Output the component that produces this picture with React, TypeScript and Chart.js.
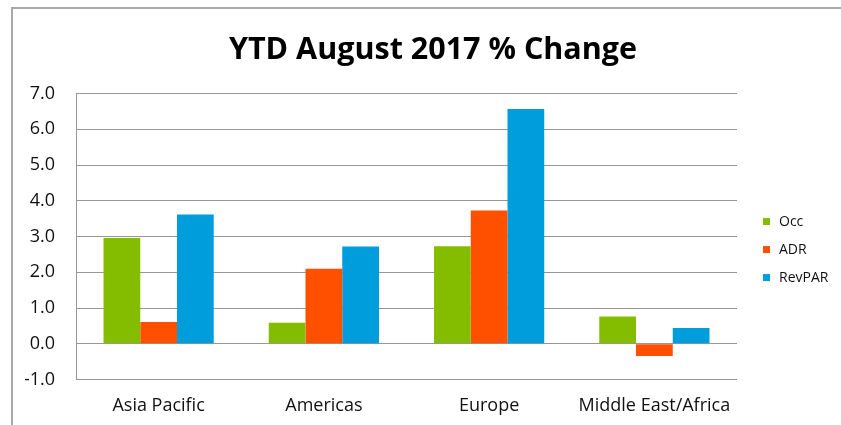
import React, { useEffect, useRef } from "react";
import { Chart, registerables } from "chart.js";

Chart.register(...registerables);

const categories = ["Asia Pacific", "Americas", "Europe", "Middle East/Africa"];
const occValues = [2.96, 0.59, 2.73, 0.76];
const adrValues = [0.61, 2.1, 3.73, -0.34];
const revparValues = [3.62, 2.72, 6.57, 0.44];
const seriesNames = ["Occ", "ADR", "RevPAR"];
const seriesColors = ["#84BD00", "#FF5000", "#009DDC"];
const chartTitle = "YTD August 2017 % Change";

const FONT = "'Open Sans', 'Noto Sans', sans-serif";

const sideLegend = {
  id: "sideLegend",
  afterDraw(chart: any) {
    const { ctx, chartArea } = chart;
    const mid = (chartArea.top + chartArea.bottom) / 2;
    ctx.save();
    ctx.font = `14px ${FONT}`;
    ctx.textBaseline = "middle";
    ctx.textAlign = "left";
    chart.data.datasets.forEach((ds: any, i: number) => {
      const y = mid + 13 + (i - 1) * 28;
      const x = chartArea.right + 26;
      ctx.fillStyle = ds.backgroundColor;
      ctx.fillRect(x, y - 3.5, 7, 7);
      ctx.fillStyle = "#111";
      ctx.fillText(ds.label, x + 16, y);
    });
    ctx.restore();
  },
};

export default function App() {
  const ref = useRef<HTMLCanvasElement>(null);

  useEffect(() => {
    if (!ref.current) return;
    const values = [occValues, adrValues, revparValues];
    const chart = new Chart(ref.current, {
      type: "bar",
      data: {
        labels: categories,
        datasets: seriesNames.map((name, i) => ({
          label: name,
          data: values[i],
          backgroundColor: seriesColors[i],
          borderWidth: 0,
          categoryPercentage: 0.667,
          barPercentage: 1.0,
          yAxisID: "y",
        })),
      },
      options: {
        responsive: false,
        animation: false,
        layout: { padding: { left: 25, right: 0, top: 0, bottom: 7.5 } },
        plugins: {
          legend: { display: false },
          tooltip: { enabled: false },
          title: {
            display: true,
            text: chartTitle,
            color: "#000",
            font: { family: FONT, size: 30.5, weight: "bold" },
            padding: { top: 32, bottom: 25 },
          },
        },
        scales: {
          x: {
            grid: { display: false },
            border: { display: false },
            ticks: {
              color: "#111",
              font: { family: FONT, size: 18 },
              padding: 8,
              maxRotation: 0,
            },
            afterFit: (s: any) => {
              s.height = 38;
            },
          },
          y: {
            min: -1,
            max: 7,
            position: "left",
            ticks: {
              stepSize: 1,
              color: "#111",
              font: { family: FONT, size: 18 },
              padding: 21,
              callback: (v: any) => Number(v).toFixed(1),
            },
            grid: { color: "#979797", lineWidth: 1, drawTicks: false },
            border: { display: true, color: "#979797", width: 1 },
            afterFit: (s: any) => {
              s.width = 51;
            },
          },
          y2: {
            position: "right",
            display: true,
            grid: { display: false },
            border: { display: false },
            ticks: { display: false },
            afterFit: (s: any) => {
              s.width = 104;
            },
          },
        },
      },
      plugins: [sideLegend],
    });
    return () => chart.destroy();
  }, []);

  return (
    <div
      style={{
        position: "absolute",
        left: 0,
        top: 0,
        width: 841,
        height: 425,
        overflow: "hidden",
        background: "#fff",
      }}
    >
      <div
        style={{
          position: "absolute",
          left: 11,
          top: 7,
          width: 900,
          height: 500,
          borderTop: "2px solid #a8a8a8",
          borderLeft: "2px solid #a8a8a8",
        }}
      />
      <canvas
        ref={ref}
        width={841}
        height={425}
        style={{ position: "absolute", left: 0, top: 0, width: 841, height: 425 }}
      />
    </div>
  );
}
